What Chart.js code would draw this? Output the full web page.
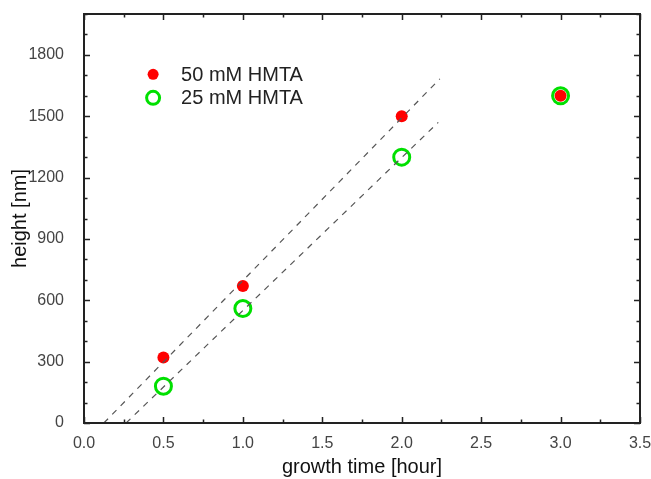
<!DOCTYPE html>
<html>
<head>
<meta charset="utf-8">
<script src="https://cdn.jsdelivr.net/npm/chart.js@4.4.1/dist/chart.umd.min.js"></script>
<style>
  html, body { margin: 0; padding: 0; background: #fff; }
  #wrap { width: 651px; height: 479px; }
</style>
</head>
<body>
<div id="wrap"><canvas id="chart" width="651" height="479"></canvas></div>
<script>
// data
const timeHours = [0.5, 1.0, 2.0, 3.0];
const height50 = [320, 670, 1500, 1600];
const height25 = [180, 560, 1300, 1600];
const fit50X = [0.125, 2.24];
const fit50Y = [0, 1683];
const fit25X = [0.265, 2.23];
const fit25Y = [0, 1470];
const legendLabels = ['50 mM HMTA', '25 mM HMTA'];

const FONT = '"Liberation Sans", Arial, sans-serif';
const toPoints = (xs, ys) => xs.map((x, i) => ({ x: x, y: ys[i] }));

// frame + inward ticks on all four sides
const framePlugin = {
  id: 'frame',
  afterDatasetsDraw(chart) {
    const { ctx, chartArea: a, scales } = chart;
    ctx.save();
    ctx.strokeStyle = '#222';
    ctx.lineWidth = 2;
    ctx.strokeRect(a.left, a.top, a.right - a.left, a.bottom - a.top);
    ctx.lineWidth = 1.5;
    ctx.beginPath();
    for (let v = 0; v <= 3.5001; v += 0.25) {
      const px = Math.round(scales.x.getPixelForValue(v)) + 0.5;
      const len = Math.abs(v * 2 - Math.round(v * 2)) < 1e-6 ? 6 : 3.5;
      ctx.moveTo(px, a.bottom); ctx.lineTo(px, a.bottom - len);
      ctx.moveTo(px, a.top); ctx.lineTo(px, a.top + len);
    }
    for (let v = 0; v <= 2000; v += 100) {
      const py = Math.round(scales.y.getPixelForValue(v)) + 0.5;
      const len = v % 300 === 0 ? 6 : 3.5;
      ctx.moveTo(a.left, py); ctx.lineTo(a.left + len, py);
      ctx.moveTo(a.right, py); ctx.lineTo(a.right - len, py);
    }
    ctx.stroke();
    ctx.restore();
  }
};

// legend inside the plot
const insideLegend = {
  id: 'insideLegend',
  afterDraw(chart) {
    const { ctx, scales } = chart;
    const x0 = scales.x.getPixelForValue(0.435);
    const ys = [scales.y.getPixelForValue(1705), scales.y.getPixelForValue(1590)];
    ctx.save();
    ctx.fillStyle = '#ff0000';
    ctx.beginPath(); ctx.arc(x0, ys[0], 5.5, 0, Math.PI * 2); ctx.fill();
    ctx.strokeStyle = '#00e000';
    ctx.lineWidth = 3;
    ctx.beginPath(); ctx.arc(x0, ys[1], 6.5, 0, Math.PI * 2); ctx.stroke();
    ctx.fillStyle = '#222';
    ctx.font = '20px ' + FONT;
    ctx.textBaseline = 'middle';
    ctx.fillText(legendLabels[0], x0 + 28, ys[0] + 1);
    ctx.fillText(legendLabels[1], x0 + 28, ys[1] + 1);
    ctx.restore();
  }
};

new Chart(document.getElementById('chart'), {
  type: 'scatter',
  data: {
    datasets: [
      {
        label: 'fit50',
        data: toPoints(fit50X, fit50Y),
        showLine: true,
        borderColor: '#555',
        borderWidth: 1.2,
        borderDash: [6, 6],
        pointRadius: 0
      },
      {
        label: 'fit25',
        data: toPoints(fit25X, fit25Y),
        showLine: true,
        borderColor: '#555',
        borderWidth: 1.2,
        borderDash: [6, 6],
        pointRadius: 0
      },
      {
        label: legendLabels[1],
        data: toPoints(timeHours, height25),
        pointRadius: 8,
        pointBorderWidth: 3,
        pointBorderColor: '#00e000',
        pointBackgroundColor: 'rgba(0,0,0,0)'
      },
      {
        label: legendLabels[0],
        data: toPoints(timeHours, height50),
        pointRadius: 6,
        pointBorderWidth: 0,
        pointBackgroundColor: '#ff0000'
      }
    ]
  },
  options: {
    responsive: false,
    animation: false,
    layout: { padding: { top: 14, right: 11, left: 8, bottom: 0 } },
    plugins: { legend: { display: false }, tooltip: { enabled: false } },
    scales: {
      x: {
        min: 0,
        max: 3.5,
        grid: { display: false },
        border: { display: false },
        ticks: {
          stepSize: 0.5,
          color: '#444',
          font: { family: FONT, size: 16 },
          padding: 3,
          maxRotation: 0,
          callback: v => Number(v).toFixed(1)
        },
        title: {
          display: true,
          text: 'growth time [hour]',
          color: '#111',
          font: { family: FONT, size: 20 },
          padding: { top: 0, bottom: 0 }
        },
        afterFit: s => { s.height = 56; s.paddingLeft = 0; s.paddingRight = 0; }
      },
      y: {
        min: 0,
        max: 2000,
        grid: { display: false },
        border: { display: false },
        afterBuildTicks: s => { s.ticks = s.ticks.filter(t => t.value % 300 === 0); },
        ticks: {
          stepSize: 300,
          color: '#444',
          font: { family: FONT, size: 16 },
          padding: 12,
          callback: v => String(v)
        },
        title: {
          display: true,
          text: 'height [nm]',
          color: '#111',
          font: { family: FONT, size: 20 },
          padding: { top: 0, bottom: 0 }
        },
        afterFit: s => { s.width = 76; s.paddingTop = 0; s.paddingBottom = 0; }
      }
    }
  },
  plugins: [framePlugin, insideLegend]
});
</script>
</body>
</html>
